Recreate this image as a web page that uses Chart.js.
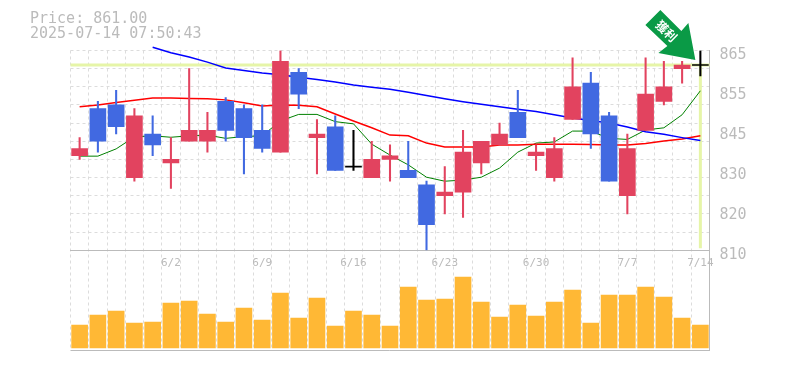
<!DOCTYPE html>
<html>
<head>
<meta charset="utf-8">
<style>
  html, body { margin: 0; padding: 0; background: #fff; }
  #wrap { position: relative; width: 785px; height: 370px; }
  #quote { position: absolute; left: 30px; top: 11px; font: 15px/15px "DejaVu Sans Mono", monospace; color: #bbb; white-space: pre; }
</style>
<script src="https://cdn.jsdelivr.net/npm/chart.js@4"></script>
</head>
<body>
<div id="wrap">
  <div id="quote"></div>
  <canvas id="chart" width="785" height="370"></canvas>
</div>
<script>
// ohlc per session
const dates = ["5/26","5/27","5/28","5/29","5/30","6/2","6/3","6/4","6/5","6/6","6/9","6/10","6/11","6/12","6/13","6/16","6/17","6/18","6/19","6/20","6/23","6/24","6/25","6/26","6/27","6/30","7/1","7/2","7/3","7/4","7/7","7/8","7/9","7/10","7/14"];
const opens  = [836,849,850,830,842,834,840,840,851,849,843,837,859,841,844,833,830,835,832,828,825,826,834,839,848,836,830,846,856,847,825,843,851,860,861];
const closes = [838,840,844,847,839,835,843,843,843,841,838,862,853,842,832,833,835,836,830,817,826,837,840,842,841,837,838,855,842,829,838,853,855,861,861];
const highs  = [841,851,854,849,847,841,860,848,852,850,850,865,860,846,847,843,840,839,840,829,833,843,840,845,854,839,841,863,859,848,842,863,862,862,865];
const lows   = [835,837,842,829,836,827,840,837,840,831,837,837,849,831,832,832,830,829,830,810,820,819,831,839,841,832,829,846,838,829,820,843,850,856,858];
const maShort = [835.9,835.9,837.9,841.2,841.5,841.1,841.5,841.7,840.8,841.3,841.5,845.6,847.4,847.4,845.4,844.8,839.2,836.2,833.5,830.1,829.0,829.3,830.1,832.6,837.0,839.5,839.8,842.8,842.8,840.8,840.5,843.1,843.7,847.3,853.9];
const maMid = [849.5,850.0,850.7,851.3,851.9,851.9,851.8,851.7,851.4,850.6,849.7,850.0,849.9,849.5,847.5,845.6,843.7,841.7,841.5,839.5,838.4,838.4,838.4,839.0,839.0,839.2,839.2,839.2,839.1,839.0,839.0,839.4,840.1,840.6,841.5];
const maLong = [null,null,null,null,865.9,864.4,863.2,861.8,860.2,859.5,858.8,858.3,857.6,857.0,856.3,855.5,854.9,854.3,853.5,852.6,851.7,850.9,850.2,849.5,848.8,848.2,847.3,846.4,845.7,845.0,843.9,842.6,841.9,841.0,840.2];
const volumes = [2300,3300,3700,2500,2600,4500,4700,3400,2600,4000,2800,5500,3000,5000,2200,3700,3300,2200,6100,4800,4900,7100,4600,3100,4300,3200,4600,5800,2500,5300,5300,6100,5100,3000,2300];

const dateTicks = ["6/2","6/9","6/16","6/23","6/30","7/7","7/14"];
// value tick -> printed label (the source chart rounds them to the grid)
const priceTicks = [865,854,843,832,821,810];
const priceLabels = ["865","855","845","830","820","810"];
const gridPrices = [865,860,855,850,845,840,835,830,825,820,815,810];

const lastPrice = 861;
const lastStamp = "2025-07-14 07:50:43";
const badgeText = "獲利";

document.getElementById("quote").textContent = "Price: " + lastPrice.toFixed(2) + "\n" + lastStamp;

const RED = "#e2435f", BLUE = "#4169e1", BLACK = "#000";
const GRID = "#dcdcdc", FRAME = "#bbb", MARK = "#e6f5a8";
const candleColor = (i) => closes[i] > opens[i] ? RED : closes[i] < opens[i] ? BLUE : BLACK;
const candleColors = dates.map((d, i) => candleColor(i));

// bodies as floating bars; a doji still needs its flat stroke
const bodies = dates.map((d, i) => opens[i] === closes[i] ? [opens[i] - 0.14, opens[i] + 0.14] : [opens[i], closes[i]]);
const wicks = dates.map((d, i) => [lows[i], highs[i]]);

const marksPlugin = {
  id: "lastPriceMarks",
  beforeDatasetsDraw(chart) {
    const { ctx, chartArea, scales } = chart;
    const yp = scales.y.getPixelForValue(lastPrice);
    const xp = scales.x.getPixelForValue(dates.length - 1);
    ctx.save();
    ctx.strokeStyle = MARK;
    ctx.lineWidth = 3;
    ctx.beginPath();
    ctx.moveTo(chartArea.left, yp);
    ctx.lineTo(chartArea.right, yp);
    ctx.moveTo(xp, yp);
    ctx.lineTo(xp, scales.y.getPixelForValue(810) - 2);
    ctx.stroke();
    ctx.restore();
  },
  afterDatasetsDraw(chart) {
    // green arrow pointing at the last price
    const { ctx, scales } = chart;
    const tipX = scales.x.getPixelForValue(dates.length - 1) - 5;
    const tipY = scales.y.getPixelForValue(lastPrice) - 5;
    const shape = [[0,0],[-37,-7],[-28,-14],[-50,-35],[-35,-50],[-14,-29],[-7,-37]];
    ctx.save();
    ctx.translate(tipX, tipY);
    ctx.fillStyle = "#0a9a46";
    ctx.beginPath();
    shape.forEach(([px, py], i) => (i ? ctx.lineTo(px, py) : ctx.moveTo(px, py)));
    ctx.closePath();
    ctx.fill();
    ctx.translate(-29, -29);
    ctx.rotate(Math.PI / 4);
    ctx.fillStyle = "#fff";
    ctx.font = 'bold 12px "Noto Sans CJK JP"';
    ctx.textAlign = "center";
    ctx.textBaseline = "middle";
    ctx.fillText(badgeText, 0, 0);
    ctx.restore();
  },
};

new Chart(document.getElementById("chart"), {
  data: {
    labels: dates,
    datasets: [
      { type: "bar", label: "Body", data: bodies, backgroundColor: candleColors, barThickness: 16, grouped: false, order: 1, yAxisID: "y" },
      { type: "bar", label: "Wick", data: wicks, backgroundColor: candleColors, barThickness: 1.4, grouped: false, order: 2, yAxisID: "y" },
      { type: "line", label: "MA short", data: maShort, borderColor: "#008000", borderWidth: 1, pointRadius: 0, tension: 0, order: 5, yAxisID: "y" },
      { type: "line", label: "MA mid", data: maMid, borderColor: "#ff0000", borderWidth: 1.5, pointRadius: 0, tension: 0, order: 4, yAxisID: "y" },
      { type: "line", label: "MA long", data: maLong, borderColor: "#0000ff", borderWidth: 1.5, pointRadius: 0, tension: 0, order: 3, yAxisID: "y", clip: false },
      { type: "bar", label: "Volume", data: volumes, backgroundColor: "#ffb835", barThickness: 16, grouped: false, order: 6, yAxisID: "yVol" },
    ],
  },
  options: {
    responsive: false,
    animation: false,
    layout: { padding: { left: 70.5, top: 50.5, right: 0, bottom: 20 } },
    plugins: { legend: { display: false }, tooltip: { enabled: false } },
    scales: {
      x: {
        position: { y: 810 },
        offset: true,
        grid: { offset: true, color: GRID, lineWidth: 1, drawTicks: false },
        border: { color: FRAME, dash: [3, 3] },
        ticks: {
          autoSkip: false,
          maxRotation: 0,
          padding: 6,
          color: FRAME,
          font: { family: '"DejaVu Sans Mono"', size: 11 },
          callback(v) {
            const d = this.getLabelForValue(v);
            return dateTicks.includes(d) ? d : "";
          },
        },
      },
      y: {
        position: "right",
        stack: "panes",
        stackWeight: 2,
        min: 810,
        max: 865,
        afterBuildTicks: (scale) => {
          const all = new Set(gridPrices.concat(priceTicks));
          scale.ticks = [...all].map((value) => ({ value }));
        },
        afterFit: (scale) => { scale.width = 75.5; },
        border: { color: FRAME, dash: [3, 3] },
        grid: {
          drawTicks: false,
          color: (c) => (gridPrices.includes(c.tick.value) ? GRID : "transparent"),
        },
        ticks: {
          autoSkip: false,
          padding: 10,
          labelOffset: 4.5,
          color: FRAME,
          font: { family: '"DejaVu Sans Mono"', size: 15 },
          callback: (v) => {
            const i = priceTicks.indexOf(v);
            return i < 0 ? "" : priceLabels[i];
          },
        },
      },
      yVol: {
        position: "right",
        stack: "panes",
        stackWeight: 1,
        min: -200,
        max: 9800,
        afterBuildTicks: (scale) => { scale.ticks = [{ value: -200 }]; },
        afterFit: (scale) => { scale.width = 75.5; },
        border: { color: FRAME },
        grid: { color: FRAME, drawTicks: false },
        ticks: { display: false },
      },
    },
  },
  plugins: [marksPlugin],
});
</script>
</body>
</html>
